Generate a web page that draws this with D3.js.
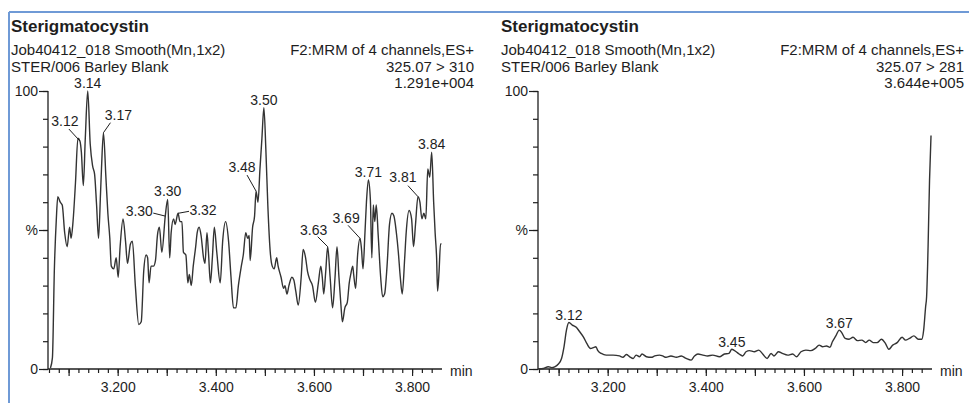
<!DOCTYPE html>
<html>
<head>
<meta charset="utf-8">
<script src="https://cdn.jsdelivr.net/npm/d3@7"></script>
<style>
  body { margin: 0; background: #fff; }
</style>
</head>
<body>
<svg id="chart" width="969" height="403"></svg>
<script>
const FONT = '"Liberation Sans", Arial, sans-serif';

// axis ranges and tick labels
const timeDomain = [3.058, 3.861];
const xTickValues = [3.2, 3.4, 3.6, 3.8];
const yMajorTicks = [0, 50, 100];
const yMajorLabels = ["0", "%", "100"];

// header texts
const titleText = "Sterigmatocystin";
const infoLeft = ["Job40412_018 Smooth(Mn,1x2)", "STER/006 Barley Blank"];
const leftInfoRight = ["F2:MRM of 4 channels,ES+", "325.07 > 310", "1.291e+004"];
const rightInfoRight = ["F2:MRM of 4 channels,ES+", "325.07 > 281", "3.644e+005"];

// channel 325.07 > 310 (min, %)
const leftTime = [
  3.063,3.067,3.071,3.075,3.078,3.083,3.087,3.092,3.097,3.102,
  3.105,3.109,3.114,3.119,3.123,3.126,3.130,3.134,3.139,3.144,
  3.149,3.153,3.157,3.161,3.165,3.167,3.171,3.176,3.180,3.184,
  3.187,3.192,3.197,3.201,3.205,3.211,3.216,3.220,3.226,3.230,
  3.236,3.243,3.248,3.253,3.258,3.261,3.264,3.268,3.273,3.277,
  3.281,3.285,3.290,3.297,3.302,3.306,3.309,3.314,3.317,3.323,
  3.327,3.331,3.334,3.339,3.343,3.346,3.350,3.354,3.359,3.362,
  3.366,3.370,3.375,3.378,3.382,3.385,3.389,3.393,3.397,3.402,
  3.409,3.414,3.420,3.426,3.431,3.436,3.441,3.446,3.452,3.456,
  3.461,3.465,3.468,3.470,3.475,3.479,3.482,3.486,3.490,3.494,
  3.498,3.502,3.506,3.511,3.515,3.519,3.524,3.527,3.533,3.538,
  3.541,3.545,3.549,3.555,3.559,3.563,3.568,3.574,3.578,3.583,
  3.587,3.592,3.597,3.603,3.609,3.614,3.617,3.620,3.624,3.628,
  3.633,3.638,3.643,3.647,3.651,3.655,3.658,3.663,3.668,3.672,
  3.675,3.679,3.681,3.685,3.689,3.694,3.697,3.700,3.704,3.707,
  3.711,3.715,3.718,3.721,3.724,3.727,3.731,3.736,3.740,3.744,
  3.749,3.754,3.759,3.763,3.768,3.772,3.776,3.780,3.785,3.788,
  3.794,3.799,3.803,3.807,3.812,3.816,3.820,3.824,3.828,3.832,
  3.836,3.840,3.844,3.847,3.850,3.852,3.855,3.858,3.860
];
const leftPct = [
  0.4,4,36,54,62,60,59,49,44,51,
  47,53,67,83,82,78,66,83,100,81,
  73,70,59,47,63,72,85,69,56,47,
  37,36,40,33,44,54,46,38,45,46,
  30,16,17,35,41,40,31,37,37,39,
  48,51,42,55,61,40,49,54,52,56,
  53,53,42,41,31,34,30,37,44,49,
  51,48,40,38,49,42,31,40,51,42,
  31,46,53,46,33,22,22,30,37,41,
  49,47,48,39,51,55,64,60,72,83,
  94,79,59,42,37,36,40,37,33,29,
  30,27,30,33,32,28,23,33,43,40,
  35,32,30,24,31,37,33,27,35,44,
  33,22,33,44,33,23,17,22,24,31,
  34,37,34,29,41,47,43,36,49,60,
  68,61,40,59,53,59,48,33,26,27,
  37,52,56,55,49,42,33,27,40,49,
  57,54,44,52,62,60,54,56,54,72,
  69,78,60,49,40,28,35,45,45
];
const leftPeakTimes = [3.123, 3.139, 3.171, 3.297, 3.302, 3.323, 3.482, 3.498, 3.628, 3.694, 3.711, 3.812, 3.840];
const leftPeakLabels = ["3.12", "3.14", "3.17", "3.30", "3.30", "3.32", "3.48", "3.50", "3.63", "3.69", "3.71", "3.81", "3.84"];

// channel 325.07 > 281 (min, %)
const rightTime = [
  3.060,3.069,3.079,3.086,3.092,3.099,3.106,3.111,3.116,3.121,
  3.128,3.136,3.143,3.151,3.158,3.165,3.172,3.176,3.180,3.187,
  3.197,3.211,3.224,3.231,3.238,3.245,3.252,3.258,3.265,3.270,
  3.279,3.289,3.296,3.306,3.312,3.319,3.329,3.340,3.350,3.360,
  3.370,3.377,3.384,3.394,3.404,3.414,3.428,3.438,3.447,3.453,
  3.462,3.468,3.475,3.482,3.489,3.499,3.508,3.516,3.525,3.533,
  3.539,3.548,3.556,3.567,3.577,3.585,3.594,3.604,3.614,3.623,
  3.631,3.638,3.646,3.653,3.658,3.665,3.672,3.677,3.684,3.692,
  3.700,3.709,3.718,3.726,3.733,3.741,3.749,3.758,3.766,3.773,
  3.781,3.790,3.800,3.807,3.815,3.824,3.833,3.840,3.844,3.848,
  3.850,3.852,3.853,3.856,3.859
];
const rightPct = [
  0,0.2,0.8,0.5,0.8,1.7,3.8,8.0,14.0,16.7,
  15.8,15.0,13.4,11.4,9.0,7.4,7.8,8.0,6.6,5.6,
  5.0,5.0,4.7,4.2,5.2,4.4,3.8,5.0,4.4,5.4,
  4.4,4.2,4.7,5.0,4.7,4.2,4.7,4.2,4.7,3.8,
  3.2,4.7,5.4,5.0,4.7,5.0,4.4,5.4,5.6,7.1,
  6.2,5.4,4.7,6.2,6.6,6.2,6.8,5.4,3.8,5.6,
  4.7,6.2,5.6,5.0,5.4,4.4,6.2,6.8,6.6,7.4,
  8.6,8.0,8.3,7.8,9.8,11.9,14.0,13.1,11.0,10.7,
  11.4,10.2,10.4,9.5,10.4,9.5,9.5,10.7,9.2,7.1,
  8.6,9.5,11.4,10.4,11.0,11.9,10.7,10.7,14.0,22.4,
  26,36.8,44,68,84
];
const rightPeakTimes = [3.121, 3.453, 3.672];
const rightPeakLabels = ["3.12", "3.45", "3.67"];

// label placement (layout only): [dx, dy] of label from apex, [lx, ly] end of leader line
const leftLabelLayout = [
  { dx: -15, dy: -15, lead: [-11, -12] },
  { dx: 0, dy: -3 },
  { dx: 15, dy: -13, lead: [7, -10] },
  { dx: -26, dy: 0, lead: [-12, -3] },
  { dx: 0, dy: -3 },
  { dx: 25, dy: 2, lead: [11, -2] },
  { dx: -14, dy: -19, lead: [-9, -16] },
  { dx: 0, dy: -3 },
  { dx: -14, dy: -12, lead: [-10, -10] },
  { dx: -14, dy: -15, lead: [-12, -13] },
  { dx: 0, dy: -3 },
  { dx: -15, dy: -15, lead: [-10, -11] },
  { dx: 0, dy: -3 }
];
const rightLabelLayout = rightPeakTimes.map(() => ({ dx: 0, dy: -2.5 }));

const svg = d3.select("#chart");
const ink = "#1e1e1e";

// window frame
svg.append("line").attr("x1", 9).attr("x2", 969).attr("y1", 12).attr("y2", 12)
  .attr("stroke", "#6f9ad6").attr("stroke-width", 2);
svg.append("line").attr("x1", 9).attr("x2", 9).attr("y1", 12).attr("y2", 403)
  .attr("stroke", "#6f9ad6").attr("stroke-width", 2);

function drawPanel(ox, panel) {
  const g = svg.append("g").attr("transform", `translate(${ox},0)`)
    .attr("font-family", FONT).attr("fill", ink);

  const x = d3.scaleLinear().domain(timeDomain).range([48, 442]);
  const y = d3.scaleLinear().domain([0, 100]).range([369, 91]);

  // header
  g.append("text").attr("x", 11).attr("y", 32)
    .attr("font-size", 17).attr("font-weight", "bold").text(titleText);
  infoLeft.forEach((t, i) => {
    g.append("text").attr("x", 11).attr("y", 55 + i * 16.5)
      .attr("font-size", 15).text(t);
  });
  panel.infoRight.forEach((t, i) => {
    g.append("text").attr("x", 474).attr("y", 55 + i * 16.5)
      .attr("text-anchor", "end").attr("font-size", 15).text(t);
  });

  // y axis
  const yMinor = g.append("g").attr("transform", "translate(48,0)")
    .call(d3.axisLeft(y).tickValues(d3.range(0, 101, 10)).tickSize(5).tickFormat(""));
  yMinor.select(".domain").remove();
  const yMajor = g.append("g").attr("transform", "translate(48,0)")
    .call(d3.axisLeft(y).tickValues(yMajorTicks).tickSize(9).tickPadding(1)
      .tickFormat((d, i) => yMajorLabels[i]));
  yMajor.select(".domain").remove();

  // x axis
  const minorTimes = d3.range(0, 40).map(i => 3.06 + i * 0.02);
  const xMinor = g.append("g").attr("transform", "translate(0,369)")
    .call(d3.axisBottom(x).tickValues(minorTimes).tickSize(4).tickFormat(""));
  xMinor.select(".domain").remove();
  const xMid = g.append("g").attr("transform", "translate(0,369)")
    .call(d3.axisBottom(x).tickValues(d3.range(1, 9).map(i => 3 + i * 0.1)).tickSize(7).tickFormat(""));
  xMid.select(".domain").remove();
  const xLab = g.append("g").attr("transform", "translate(0,369)")
    .call(d3.axisBottom(x).tickValues(xTickValues).tickSize(0).tickPadding(13)
      .tickFormat(d3.format(".3f")));
  xLab.select(".domain").remove();

  g.selectAll(".tick line").attr("stroke", ink).attr("stroke-width", 1.2);
  g.selectAll(".tick text").attr("font-size", 14).attr("font-family", FONT).attr("fill", ink);

  // axis lines
  g.append("line").attr("x1", 48).attr("x2", 48).attr("y1", y(100)).attr("y2", y(0))
    .attr("stroke", ink).attr("stroke-width", 1.3);
  g.append("line").attr("x1", 48).attr("x2", 442).attr("y1", y(0)).attr("y2", y(0))
    .attr("stroke", ink).attr("stroke-width", 1.3);
  g.append("text").attr("x", 450).attr("y", 376).attr("font-size", 14).text("min");

  // trace
  const data = panel.time.map((t, i) => ({ t, p: panel.pct[i] }));
  g.append("path").datum(data)
    .attr("fill", "none").attr("stroke", "#333").attr("stroke-width", 1.4)
    .attr("stroke-linejoin", "round")
    .attr("d", d3.line().curve(d3.curveMonotoneX).x(d => x(d.t)).y(d => y(d.p)));

  // peak labels
  panel.peakTimes.forEach((pt, i) => {
    const k = d3.leastIndex(data, d => Math.abs(d.t - pt));
    const ax = x(data[k].t), ay = y(data[k].p);
    const lay = panel.layout[i];
    if (lay.lead) {
      g.append("line").attr("x1", ax).attr("y1", ay)
        .attr("x2", ax + lay.lead[0]).attr("y2", ay + lay.lead[1])
        .attr("stroke", ink).attr("stroke-width", 1);
    }
    g.append("text").attr("x", ax + lay.dx).attr("y", ay + lay.dy)
      .attr("text-anchor", "middle").attr("font-size", 14)
      .text(panel.peakLabels[i]);
  });
}

drawPanel(0, {
  infoRight: leftInfoRight, time: leftTime, pct: leftPct,
  peakTimes: leftPeakTimes, peakLabels: leftPeakLabels, layout: leftLabelLayout
});
drawPanel(490, {
  infoRight: rightInfoRight, time: rightTime, pct: rightPct,
  peakTimes: rightPeakTimes, peakLabels: rightPeakLabels, layout: rightLabelLayout
});
</script>
</body>
</html>
